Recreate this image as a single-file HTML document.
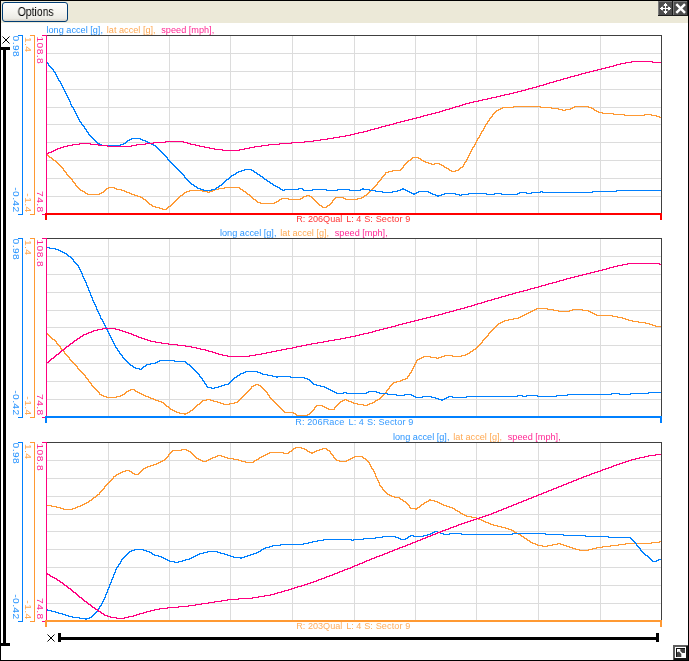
<!DOCTYPE html>
<html><head><meta charset="utf-8"><title>Chart</title>
<style>
html,body{margin:0;padding:0;background:#fff;}
body{width:689px;height:661px;position:relative;overflow:hidden;font-family:"Liberation Sans",sans-serif;}
#frame{position:absolute;left:0;top:0;width:687px;height:659px;border:1px solid #000;}
#hdr{position:absolute;left:1px;top:1px;width:687px;height:22px;background:#ece9d8;}
#btn{position:absolute;left:2px;top:2px;width:64px;height:18px;border:1px solid #003c74;border-radius:3px;
 background:linear-gradient(#ffffff 0%,#f6f5f0 50%,#ecebe5 85%,#d6d0c5 100%);font-size:12px;line-height:18px;text-align:center;color:#000;}
#btn span{display:inline-block;transform:scaleX(0.87);transform-origin:50% 50%;position:relative;left:0.2px;will-change:transform;}
svg{position:absolute;left:0;top:0;}
.cv{fill:none;stroke-width:1;shape-rendering:crispEdges;}
.ax{fill-opacity:.85;font-size:9.3px;letter-spacing:0.35px;font-family:"Liberation Sans",sans-serif;}
.lg{fill-opacity:.85;font-size:8.5px;font-family:"Liberation Sans",sans-serif;}
.bl{fill-opacity:.8;font-size:9.1px;font-family:"Liberation Sans",sans-serif;}
</style></head><body>
<div id="hdr"></div>
<div id="btn"><span>Options</span></div>
<svg width="689" height="661" viewBox="0 0 689 661">
<rect x="47" y="53" width="614" height="1" fill="#dcdcdc"/>
<rect x="47" y="71" width="614" height="1" fill="#dcdcdc"/>
<rect x="47" y="89" width="614" height="1" fill="#dcdcdc"/>
<rect x="47" y="107" width="614" height="1" fill="#dcdcdc"/>
<rect x="47" y="124" width="614" height="1" fill="#dcdcdc"/>
<rect x="47" y="142" width="614" height="1" fill="#dcdcdc"/>
<rect x="47" y="160" width="614" height="1" fill="#dcdcdc"/>
<rect x="47" y="178" width="614" height="1" fill="#dcdcdc"/>
<rect x="47" y="196" width="614" height="1" fill="#dcdcdc"/>
<rect x="108" y="36" width="1" height="177" fill="#dcdcdc"/>
<rect x="169" y="36" width="1" height="177" fill="#dcdcdc"/>
<rect x="230" y="36" width="1" height="177" fill="#dcdcdc"/>
<rect x="292" y="36" width="1" height="177" fill="#dcdcdc"/>
<rect x="354" y="36" width="1" height="177" fill="#dcdcdc"/>
<rect x="415" y="36" width="1" height="177" fill="#dcdcdc"/>
<rect x="476" y="36" width="1" height="177" fill="#dcdcdc"/>
<rect x="538" y="36" width="1" height="177" fill="#dcdcdc"/>
<rect x="600" y="36" width="1" height="177" fill="#dcdcdc"/>
<rect x="47" y="35" width="615" height="1" fill="#404040"/>
<rect x="661" y="35" width="1" height="178" fill="#404040"/>
<rect x="22" y="35" width="1" height="180" fill="#0080ff"/>
<rect x="18" y="35" width="4" height="1" fill="#0080ff"/>
<rect x="18" y="214" width="4" height="1" fill="#0080ff"/>
<rect x="34" y="35" width="1" height="180" fill="#ff9933"/>
<rect x="30" y="35" width="4" height="1" fill="#ff9933"/>
<rect x="30" y="214" width="4" height="1" fill="#ff9933"/>
<rect x="46" y="35" width="1" height="180" fill="#ff0080"/>
<rect x="42" y="35" width="4" height="1" fill="#ff0080"/>
<rect x="42" y="214" width="4" height="1" fill="#ff0080"/>
<path class="cv" d="M47.5 154v2M48.5 155v2M49.5 156v2M50 157.5h1M51.5 157v2M52.5 158v2M53.5 159v2M54 160.5h1M55.5 160v2M56.5 161v2M57.5 162v2M58.5 163v2M59.5 164v2M60.5 165v2M61.5 166v2M62.5 167v2M63.5 168v3M64.5 170v2M65.5 171v2M66.5 172v3M67.5 174v2M68.5 175v2M69.5 176v2M70.5 177v2M71.5 178v2M72.5 179v3M73.5 181v2M74.5 182v2M75.5 183v3M76.5 185v2M77.5 186v2M78.5 187v2M79.5 188v2M80.5 189v2M81 190.5h1M82.5 190v2M83 191.5h1M84.5 191v2M85.5 192v2M86 193.5h1M87.5 193v2M88 194.5h11M99.5 193v2M100 193.5h1M101.5 192v2M102 192.5h1M103.5 191v2M104.5 190v2M105.5 189v2M106.5 188v2M107 188.5h1M108.5 187v2M109 187.5h5M114.5 187v2M115 188.5h1M116.5 188v2M117 189.5h4M121.5 189v2M122 190.5h2M124.5 190v2M125 191.5h1M126.5 191v2M127 192.5h2M129.5 192v2M130 193.5h1M131.5 193v2M132 194.5h2M134.5 194v2M135 195.5h2M137.5 195v2M138 196.5h2M140.5 196v2M141 197.5h1M142.5 197v2M143.5 198v2M144 199.5h1M145.5 199v2M146.5 200v2M147.5 201v2M148.5 202v2M149.5 203v2M150 204.5h1M151.5 204v2M152.5 205v2M153 206.5h2M155.5 206v2M156 207.5h3M159.5 207v2M160 208.5h2M162.5 208v2M163 209.5h3M166.5 208v2M167.5 207v2M168.5 206v2M169 206.5h1M170.5 205v2M171.5 204v2M172.5 203v2M173.5 202v2M174.5 201v2M175.5 200v2M176.5 199v2M177.5 198v2M178.5 197v2M179.5 196v2M180.5 195v2M181 195.5h1M182.5 194v2M183.5 193v2M184.5 192v2M185 192.5h1M186.5 191v2M187 191.5h2M189.5 190v2M190 190.5h12M202.5 190v2M203 191.5h4M207.5 191v2M208 192.5h1M209.5 191v2M210 191.5h2M212.5 190v2M213 190.5h1M214.5 189v2M215 189.5h3M218.5 188v2M219 188.5h5M224.5 187v2M225 187.5h14M239.5 187v2M240.5 188v2M241 189.5h1M242.5 189v2M243.5 190v2M244 191.5h1M245.5 191v2M246.5 192v2M247.5 193v2M248 194.5h1M249.5 194v2M250.5 195v2M251.5 196v2M252.5 197v2M253.5 198v2M254 199.5h1M255.5 199v2M256.5 200v2M257.5 201v2M258 202.5h2M260.5 202v2M261 203.5h13M274.5 202v2M275 202.5h1M276.5 201v2M277 201.5h1M278.5 200v2M279.5 199v2M280 199.5h1M281.5 198v2M282 198.5h6M288.5 198v2M289 199.5h11M300.5 198v2M301 198.5h1M302.5 197v2M303.5 196v2M304 196.5h2M306.5 195v2M307 195.5h2M309.5 195v2M310 196.5h1M311.5 196v2M312.5 197v2M313.5 198v2M314.5 199v2M315.5 200v2M316.5 201v2M317.5 202v2M318.5 203v2M319.5 204v2M320 205.5h1M321.5 205v2M322.5 206v2M323 207.5h3M326.5 206v2M327.5 205v2M328 205.5h1M329.5 204v2M330.5 203v2M331.5 202v2M332.5 200v3M333.5 199v2M334.5 198v2M335.5 197v2M336 197.5h7M343.5 197v2M344 198.5h1M345.5 198v2M346 199.5h11M357.5 198v2M358 198.5h3M361.5 197v2M362 197.5h1M363.5 196v2M364.5 195v2M365 195.5h1M366.5 194v2M367.5 193v2M368.5 192v2M369.5 191v2M370.5 190v2M371.5 189v2M372.5 188v2M373.5 187v2M374.5 186v2M375.5 185v2M376.5 184v2M377.5 182v3M378.5 181v2M379.5 180v2M380.5 179v2M381.5 177v3M382.5 176v2M383.5 175v2M384.5 174v2M385.5 172v3M386 172.5h2M388.5 171v2M389 171.5h3M392.5 170v2M393 170.5h7M400.5 169v2M401.5 168v2M402.5 167v2M403.5 165v3M404.5 164v2M405.5 163v2M406.5 162v2M407.5 161v2M408.5 160v2M409 160.5h1M410.5 159v2M411.5 158v2M412.5 157v2M413 157.5h5M418.5 157v2M419 158.5h1M420.5 158v2M421.5 159v2M422 160.5h1M423.5 160v2M424 161.5h1M425.5 161v2M426 162.5h2M428.5 162v2M429 163.5h2M431.5 163v2M432 164.5h2M434.5 163v2M435 163.5h4M439.5 163v2M440 164.5h1M441.5 164v2M442 165.5h1M443.5 165v2M444.5 166v2M445 167.5h1M446.5 167v2M447 168.5h1M448.5 168v2M449.5 169v2M450 170.5h1M451.5 170v2M452 171.5h3M455.5 170v2M456 170.5h2M458.5 169v2M459.5 168v2M460.5 167v2M461 167.5h1M462.5 166v2M463.5 164v3M464.5 162v3M465.5 161v2M466.5 159v3M467.5 157v3M468.5 155v3M469.5 153v3M470.5 151v3M471.5 149v3M472.5 147v3M473.5 146v2M474.5 144v3M475.5 142v3M476.5 140v3M477.5 138v3M478.5 137v2M479.5 135v3M480.5 133v3M481.5 131v3M482.5 130v2M483.5 128v3M484.5 126v3M485.5 124v3M486.5 123v2M487.5 121v3M488.5 120v2M489.5 118v3M490.5 117v2M491.5 116v2M492.5 114v3M493.5 113v2M494.5 112v2M495.5 111v2M496.5 110v2M497 110.5h1M498.5 109v2M499 109.5h1M500.5 108v2M501 108.5h1M502.5 107v2M503 107.5h10M513.5 106v2M514 106.5h26M540.5 106v2M541 107.5h10M551.5 107v2M552 108.5h6M558.5 108v2M559 109.5h3M562.5 109v2M563 110.5h2M565.5 109v2M566 109.5h4M570.5 108v2M571 108.5h1M572.5 107v2M573 107.5h1M574.5 106v2M575 106.5h13M588.5 106v2M589 107.5h2M591.5 107v2M592 108.5h1M593.5 108v2M594.5 109v2M595 110.5h1M596.5 110v2M597 111.5h1M598.5 111v2M599 112.5h3M602.5 112v2M603 113.5h10M613.5 113v2M614 114.5h10M624.5 114v2M625 115.5h19M644.5 114v2M645 114.5h6M651.5 114v2M652 115.5h4M656.5 115v2M657 116.5h2M659.5 116v2M660 117.5h1" stroke="#ff9933"/>
<path class="cv" d="M47.5 62v2M48.5 63v3M49.5 65v2M50.5 66v2M51.5 67v2M52.5 68v2M53.5 69v3M54.5 71v2M55.5 72v3M56.5 74v3M57.5 76v3M58.5 78v3M59.5 80v2M60.5 81v3M61.5 83v3M62.5 85v3M63.5 87v3M64.5 89v3M65.5 91v3M66.5 93v3M67.5 95v3M68.5 97v3M69.5 99v3M70.5 101v4M71.5 104v3M72.5 106v2M73.5 107v3M74.5 109v3M75.5 111v3M76.5 113v3M77.5 115v3M78.5 117v3M79.5 119v3M80.5 121v2M81.5 122v3M82.5 124v2M83.5 125v2M84.5 126v3M85.5 128v2M86.5 129v3M87.5 131v2M88.5 132v3M89.5 134v2M90.5 135v2M91.5 136v2M92.5 137v2M93.5 138v2M94.5 139v2M95.5 140v2M96.5 141v2M97.5 142v2M98 143.5h1M99.5 143v2M100 144.5h1M101.5 144v2M102 145.5h18M120.5 144v2M121 144.5h2M123.5 143v2M124 143.5h1M125.5 142v2M126.5 141v2M127.5 140v2M128 140.5h1M129.5 139v2M130 139.5h1M131.5 138v2M132 138.5h8M140.5 138v2M141 139.5h1M142.5 139v2M143 140.5h2M145.5 140v2M146 141.5h1M147.5 141v2M148 142.5h1M149.5 142v2M150 143.5h1M151.5 143v2M152 144.5h1M153.5 144v2M154 145.5h1M155.5 145v2M156.5 146v2M157.5 147v2M158.5 148v2M159.5 149v2M160.5 150v2M161.5 151v2M162.5 152v2M163.5 153v2M164.5 154v2M165.5 155v2M166.5 156v2M167.5 157v3M168.5 159v2M169.5 160v2M170.5 161v2M171.5 162v2M172.5 163v2M173.5 164v2M174.5 165v2M175.5 166v2M176.5 167v2M177.5 168v2M178.5 169v2M179.5 170v2M180.5 171v2M181.5 172v2M182.5 173v2M183.5 174v2M184.5 175v3M185.5 177v2M186.5 178v2M187.5 179v2M188.5 180v2M189.5 181v2M190.5 182v2M191.5 183v2M192 184.5h1M193.5 184v2M194.5 185v2M195 186.5h1M196.5 186v2M197.5 187v2M198 188.5h2M200.5 188v2M201 189.5h2M203.5 189v2M204 190.5h7M211.5 189v2M212 189.5h3M215.5 188v2M216.5 187v2M217 187.5h1M218.5 186v2M219.5 185v2M220 185.5h1M221.5 184v2M222.5 183v2M223.5 182v2M224.5 181v2M225.5 180v2M226.5 179v2M227 179.5h1M228.5 178v2M229.5 177v2M230.5 176v2M231.5 175v2M232 175.5h1M233.5 174v2M234 174.5h1M235.5 173v2M236.5 172v2M237 172.5h1M238.5 171v2M239 171.5h2M241.5 170v2M242 170.5h2M244.5 169v2M245 169.5h6M251.5 169v2M252 170.5h1M253.5 170v2M254.5 171v2M255 172.5h1M256.5 172v2M257.5 173v2M258 174.5h1M259.5 174v2M260.5 175v2M261 176.5h1M262.5 176v2M263.5 177v2M264.5 178v2M265 179.5h1M266.5 179v2M267.5 180v2M268 181.5h1M269.5 181v2M270.5 182v2M271 183.5h1M272.5 183v2M273.5 184v2M274 185.5h1M275.5 185v2M276 186.5h1M277.5 186v2M278 187.5h1M279.5 187v2M280.5 188v2M281 189.5h1M282.5 189v2M283 190.5h1M284.5 189v2M285 189.5h13M298.5 188v2M299 188.5h3M302.5 188v2M303.5 189v2M304 190.5h8M312.5 189v2M313 189.5h13M326.5 189v2M327 190.5h10M337.5 189v2M338 189.5h11M349.5 189v2M350 190.5h10M360.5 189v2M361 189.5h1M362.5 188v2M363.5 188v2M364 189.5h5M369.5 189v2M370 190.5h5M375.5 190v2M376 191.5h6M382.5 191v2M383 192.5h9M392.5 191v2M393 191.5h4M397.5 190v2M398 190.5h2M400.5 189v2M401 189.5h1M402.5 188v2M403.5 188v2M404 189.5h1M405.5 189v2M406 190.5h1M407.5 190v2M408 191.5h1M409.5 191v2M410 192.5h1M411.5 192v2M412 193.5h1M413.5 193v2M414.5 193v2M415 193.5h1M416.5 192v2M417 192.5h1M418.5 191v2M419 191.5h9M428.5 191v2M429 192.5h1M430.5 192v2M431 193.5h1M432.5 193v2M433 194.5h2M435.5 194v2M436 195.5h1M437.5 195v2M438.5 195v2M439 195.5h2M441.5 194v2M442 194.5h2M444.5 193v2M445 193.5h10M455.5 193v2M456 194.5h3M459.5 194v2M460 195.5h1M461.5 194v2M462 194.5h6M468.5 193v2M469 193.5h17M486.5 193v2M487 194.5h7M494.5 193v2M495 193.5h6M501.5 193v2M502 194.5h15M517.5 193v2M518 193.5h1M519.5 192v2M520 192.5h6M526.5 192v2M527 193.5h4M531.5 192v2M532 192.5h8M540.5 191v2M541 191.5h1M542.5 191v2M543 192.5h49M592.5 191v2M593 191.5h23M616.5 190v2M617 190.5h44" stroke="#0080ff"/>
<path class="cv" d="M47 153.5h1M48.5 152v2M49 152.5h2M51.5 151v2M52 151.5h1M53.5 150v2M54 150.5h1M55.5 149v2M56 149.5h1M57.5 148v2M58 148.5h2M60.5 147v2M61 147.5h2M63.5 146v2M64 146.5h3M67.5 145v2M68 145.5h4M72.5 144v2M73 144.5h6M79.5 143v2M80 143.5h10M90.5 143v2M91 144.5h7M98.5 144v2M99 145.5h8M107.5 145v2M108 146.5h23M131.5 145v2M132 145.5h4M136.5 144v2M137 144.5h8M145.5 143v2M146 143.5h7M153.5 142v2M154 142.5h11M165.5 141v2M166 141.5h17M183.5 141v2M184 142.5h3M187.5 142v2M188 143.5h2M190.5 143v2M191 144.5h4M195.5 144v2M196 145.5h3M199.5 145v2M200 146.5h4M204.5 146v2M205 147.5h4M209.5 147v2M210 148.5h4M214.5 148v2M215 149.5h7M222.5 149v2M223 150.5h16M239.5 149v2M240 149.5h4M244.5 148v2M245 148.5h4M249.5 147v2M250 147.5h4M254.5 146v2M255 146.5h6M261.5 145v2M262 145.5h6M268.5 144v2M269 144.5h10M279.5 143v2M280 143.5h11M291.5 142v2M292 142.5h12M304.5 141v2M305 141.5h8M313.5 140v2M314 140.5h6M320.5 139v2M321 139.5h6M327.5 138v2M328 138.5h5M333.5 137v2M334 137.5h5M339.5 136v2M340 136.5h5M345.5 135v2M346 135.5h4M350.5 134v2M351 134.5h3M354.5 133v2M355 133.5h3M358.5 132v2M359 132.5h4M363.5 131v2M364 131.5h3M367.5 130v2M368 130.5h2M370.5 129v2M371 129.5h3M374.5 128v2M375 128.5h3M378.5 127v2M379 127.5h2M381.5 126v2M382 126.5h3M385.5 125v2M386 125.5h3M389.5 124v2M390 124.5h3M393.5 123v2M394 123.5h2M396.5 122v2M397 122.5h3M400.5 121v2M401 121.5h3M404.5 120v2M405 120.5h3M408.5 119v2M409 119.5h3M412.5 118v2M413 118.5h3M416.5 117v2M417 117.5h3M420.5 116v2M421 116.5h2M423.5 115v2M424 115.5h3M427.5 114v2M428 114.5h3M431.5 113v2M432 113.5h3M435.5 112v2M436 112.5h3M439.5 111v2M440 111.5h2M442.5 110v2M443 110.5h2M445.5 109v2M446 109.5h3M449.5 108v2M450 108.5h2M452.5 107v2M453 107.5h2M455.5 106v2M456 106.5h3M459.5 105v2M460 105.5h2M462.5 104v2M463 104.5h2M465.5 103v2M466 103.5h3M469.5 102v2M470 102.5h3M473.5 101v2M474 101.5h4M478.5 100v2M479 100.5h3M482.5 99v2M483 99.5h4M487.5 98v2M488 98.5h3M491.5 97v2M492 97.5h4M496.5 96v2M497 96.5h3M500.5 95v2M501 95.5h3M504.5 94v2M505 94.5h4M509.5 93v2M510 93.5h3M513.5 92v2M514 92.5h3M517.5 91v2M518 91.5h3M521.5 90v2M522 90.5h3M525.5 89v2M526 89.5h2M528.5 88v2M529 88.5h3M532.5 87v2M533 87.5h3M536.5 86v2M537 86.5h2M539.5 85v2M540 85.5h3M543.5 84v2M544 84.5h2M546.5 83v2M547 83.5h2M549.5 82v2M550 82.5h3M553.5 81v2M554 81.5h2M556.5 80v2M557 80.5h3M560.5 79v2M561 79.5h2M563.5 78v2M564 78.5h3M567.5 77v2M568 77.5h2M570.5 76v2M571 76.5h3M574.5 75v2M575 75.5h3M578.5 74v2M579 74.5h2M581.5 73v2M582 73.5h3M585.5 72v2M586 72.5h3M589.5 71v2M590 71.5h3M593.5 70v2M594 70.5h3M597.5 69v2M598 69.5h3M601.5 68v2M602 68.5h3M605.5 67v2M606 67.5h3M609.5 66v2M610 66.5h3M613.5 65v2M614 65.5h2M616.5 64v2M617 64.5h3M620.5 63v2M621 63.5h4M625.5 62v2M626 62.5h5M631.5 61v2M632 61.5h20M652.5 61v2M653 62.5h8" stroke="#ff0080"/>
<rect x="45" y="213" width="617" height="2" fill="#ff0000"/>
<rect x="45" y="213" width="2" height="7" fill="#ff0000"/>
<rect x="660" y="213" width="2" height="7" fill="#ff0000"/>
<text class="ax" fill="#0080ff" transform="translate(13,35.6) rotate(90) scale(1.1,1)">0.98</text>
<text class="ax" fill="#0080ff" text-anchor="end" transform="translate(13,212.5) rotate(90) scale(1.1,1)">-0.42</text>
<text class="ax" fill="#ff9933" transform="translate(25,36.9) rotate(90) scale(1.1,1)">1.4</text>
<text class="ax" fill="#ff9933" text-anchor="end" transform="translate(25,212.5) rotate(90) scale(1.1,1)">-1.4</text>
<text class="ax" fill="#ff0080" transform="translate(37,36.5) rotate(90) scale(1.1,1)">108.8</text>
<text class="ax" fill="#ff0080" text-anchor="end" transform="translate(37,212.5) rotate(90) scale(1.1,1)">74.8</text>
<text class="lg" transform="translate(46.5,32.8) scale(1.077,1)"><tspan x="0" fill="#0080ff">long accel [g],</tspan><tspan x="55.99" fill="#ff9933">lat accel [g],</tspan><tspan x="106.59" fill="#ff0080">speed [mph],</tspan></text>
<text class="bl" y="222" fill="#ff0000"><tspan x="296.3" style="letter-spacing:0.0px">R: 206Qual</tspan><tspan x="346.2">L: 4</tspan><tspan x="364.2" style="letter-spacing:0.12px">S: Sector 9</tspan></text>
<rect x="47" y="256" width="614" height="1" fill="#dcdcdc"/>
<rect x="47" y="274" width="614" height="1" fill="#dcdcdc"/>
<rect x="47" y="292" width="614" height="1" fill="#dcdcdc"/>
<rect x="47" y="310" width="614" height="1" fill="#dcdcdc"/>
<rect x="47" y="327" width="614" height="1" fill="#dcdcdc"/>
<rect x="47" y="345" width="614" height="1" fill="#dcdcdc"/>
<rect x="47" y="363" width="614" height="1" fill="#dcdcdc"/>
<rect x="47" y="381" width="614" height="1" fill="#dcdcdc"/>
<rect x="47" y="399" width="614" height="1" fill="#dcdcdc"/>
<rect x="108" y="239" width="1" height="177" fill="#dcdcdc"/>
<rect x="169" y="239" width="1" height="177" fill="#dcdcdc"/>
<rect x="230" y="239" width="1" height="177" fill="#dcdcdc"/>
<rect x="292" y="239" width="1" height="177" fill="#dcdcdc"/>
<rect x="354" y="239" width="1" height="177" fill="#dcdcdc"/>
<rect x="415" y="239" width="1" height="177" fill="#dcdcdc"/>
<rect x="476" y="239" width="1" height="177" fill="#dcdcdc"/>
<rect x="538" y="239" width="1" height="177" fill="#dcdcdc"/>
<rect x="600" y="239" width="1" height="177" fill="#dcdcdc"/>
<rect x="47" y="238" width="615" height="1" fill="#404040"/>
<rect x="661" y="238" width="1" height="178" fill="#404040"/>
<rect x="22" y="238" width="1" height="180" fill="#0080ff"/>
<rect x="18" y="238" width="4" height="1" fill="#0080ff"/>
<rect x="18" y="417" width="4" height="1" fill="#0080ff"/>
<rect x="34" y="238" width="1" height="180" fill="#ff9933"/>
<rect x="30" y="238" width="4" height="1" fill="#ff9933"/>
<rect x="30" y="417" width="4" height="1" fill="#ff9933"/>
<rect x="46" y="238" width="1" height="180" fill="#ff0080"/>
<rect x="42" y="238" width="4" height="1" fill="#ff0080"/>
<rect x="42" y="417" width="4" height="1" fill="#ff0080"/>
<path class="cv" d="M47.5 333v2M48.5 334v2M49.5 335v2M50.5 336v2M51.5 337v2M52.5 338v2M53 339.5h1M54.5 339v2M55.5 340v2M56.5 341v3M57.5 343v2M58.5 344v2M59.5 345v2M60.5 346v3M61.5 348v2M62.5 349v2M63.5 350v2M64.5 351v3M65.5 353v2M66.5 354v2M67.5 355v2M68.5 356v2M69.5 357v3M70.5 359v2M71.5 360v2M72.5 361v2M73.5 362v2M74.5 363v2M75.5 364v2M76.5 365v2M77.5 366v3M78.5 368v2M79.5 369v2M80.5 370v2M81.5 371v2M82.5 372v2M83.5 373v2M84.5 374v2M85.5 375v3M86.5 377v2M87.5 378v2M88.5 379v3M89.5 381v2M90.5 382v2M91.5 383v3M92.5 385v2M93.5 386v2M94.5 387v2M95.5 388v2M96.5 389v2M97.5 390v2M98.5 391v2M99.5 392v3M100 394.5h1M101.5 394v2M102 395.5h1M103.5 395v2M104 396.5h2M106.5 396v2M107 397.5h9M116.5 396v2M117 396.5h3M120.5 395v2M121 395.5h1M122.5 394v2M123 394.5h1M124.5 393v2M125.5 392v2M126.5 391v2M127 391.5h1M128.5 390v2M129 390.5h1M130.5 389v2M131 389.5h3M134.5 389v2M135.5 390v2M136 391.5h1M137.5 391v2M138 392.5h1M139.5 392v2M140 393.5h1M141.5 393v2M142 394.5h1M143.5 394v2M144 395.5h1M145.5 395v2M146 396.5h2M148.5 396v2M149 397.5h1M150.5 397v2M151 398.5h2M153.5 398v2M154 399.5h1M155.5 399v2M156 400.5h2M158.5 400v2M159 401.5h2M161.5 401v2M162 402.5h1M163.5 402v2M164.5 403v2M165.5 404v2M166.5 405v2M167 406.5h1M168.5 406v2M169.5 407v2M170.5 408v2M171 409.5h1M172.5 409v2M173 410.5h1M174.5 410v2M175 411.5h1M176.5 411v2M177 412.5h2M179.5 412v2M180 413.5h4M184.5 413v2M185.5 413v2M186 413.5h1M187.5 412v2M188 412.5h1M189.5 411v2M190.5 410v2M191 410.5h1M192.5 409v2M193.5 408v2M194.5 407v2M195.5 406v2M196.5 405v2M197.5 404v2M198 404.5h1M199.5 403v2M200.5 402v2M201.5 401v2M202.5 400v2M203 400.5h3M206.5 399v2M207 399.5h3M210.5 399v2M211 400.5h2M213.5 400v2M214 401.5h3M217.5 401v2M218 402.5h2M220.5 402v2M221 403.5h2M223.5 403v2M224 404.5h5M229.5 403v2M230 403.5h4M234.5 402v2M235 402.5h2M237.5 401v2M238.5 400v2M239.5 399v2M240.5 398v2M241.5 397v2M242.5 396v2M243.5 395v2M244.5 394v2M245.5 393v2M246.5 392v2M247.5 391v2M248.5 390v2M249.5 389v2M250.5 388v2M251.5 386v3M252 386.5h1M253.5 385v2M254 385.5h1M255.5 384v2M256 384.5h2M258.5 384v2M259 385.5h1M260.5 385v2M261.5 386v2M262.5 387v2M263.5 388v2M264.5 389v2M265.5 390v2M266.5 391v2M267.5 392v3M268.5 394v2M269.5 395v3M270.5 397v2M271.5 398v2M272.5 399v2M273.5 400v2M274.5 401v2M275.5 402v2M276.5 403v2M277.5 404v2M278.5 405v2M279.5 406v2M280.5 407v2M281.5 408v2M282.5 409v2M283.5 410v2M284.5 411v2M285 412.5h8M293.5 412v2M294 413.5h1M295.5 413v2M296.5 414v2M297 415.5h10M307.5 414v2M308 414.5h1M309.5 413v2M310.5 412v2M311.5 411v2M312.5 410v2M313.5 409v2M314.5 407v3M315.5 406v2M316.5 405v2M317 405.5h5M322.5 405v2M323 406.5h1M324.5 406v2M325 407.5h1M326.5 407v2M327 408.5h1M328.5 408v2M329 409.5h5M334.5 407v3M335.5 406v2M336.5 405v2M337.5 404v2M338.5 403v2M339.5 402v2M340.5 401v2M341 401.5h1M342.5 400v2M343 400.5h1M344.5 399v2M345 399.5h1M346.5 399v2M347 400.5h1M348.5 400v2M349 401.5h2M351.5 401v2M352 402.5h1M353.5 402v2M354 403.5h3M357.5 403v2M358 404.5h5M363.5 404v2M364 405.5h3M367.5 404v2M368 404.5h1M369.5 403v2M370 403.5h2M372.5 402v2M373 402.5h1M374.5 401v2M375.5 400v2M376 400.5h1M377.5 399v2M378 399.5h1M379.5 398v2M380.5 397v2M381.5 396v2M382.5 395v2M383.5 394v2M384.5 393v2M385.5 392v2M386.5 390v3M387.5 389v2M388.5 388v2M389.5 386v3M390.5 385v2M391.5 384v2M392.5 383v2M393.5 382v2M394 382.5h2M396.5 381v2M397 381.5h3M400.5 380v2M401 380.5h1M402.5 379v2M403 379.5h2M405.5 378v2M406 378.5h1M407.5 376v3M408.5 375v2M409.5 373v3M410.5 372v2M411.5 370v3M412.5 368v3M413.5 366v3M414.5 364v3M415.5 362v3M416.5 360v3M417.5 359v2M418 359.5h1M419.5 358v2M420 358.5h1M421.5 357v2M422 357.5h1M423.5 356v2M424 356.5h6M430.5 356v2M431 357.5h5M436.5 357v2M437 358.5h1M438.5 357v2M439 357.5h2M441.5 356v2M442 356.5h2M444.5 355v2M445 355.5h7M452.5 355v2M453 356.5h8M461.5 355v2M462 355.5h3M465.5 354v2M466 354.5h1M467.5 353v2M468 353.5h1M469.5 352v2M470.5 351v2M471 351.5h1M472.5 350v2M473.5 349v2M474 349.5h1M475.5 348v2M476.5 347v2M477.5 346v2M478.5 345v2M479.5 344v2M480.5 343v2M481.5 342v2M482.5 340v3M483.5 339v2M484.5 338v2M485.5 337v2M486.5 336v2M487.5 335v2M488.5 333v3M489.5 332v2M490.5 331v2M491.5 330v2M492.5 329v2M493.5 328v2M494.5 327v2M495.5 326v2M496.5 325v2M497.5 324v2M498.5 323v2M499 323.5h1M500.5 322v2M501 322.5h1M502.5 321v2M503 321.5h1M504.5 320v2M505 320.5h3M508.5 319v2M509 319.5h4M513.5 318v2M514 318.5h4M518.5 317v2M519 317.5h1M520.5 316v2M521 316.5h1M522.5 315v2M523 315.5h1M524.5 314v2M525 314.5h1M526.5 313v2M527 313.5h1M528.5 312v2M529 312.5h1M530.5 311v2M531 311.5h1M532.5 310v2M533 310.5h1M534.5 309v2M535 309.5h1M536.5 308v2M537 308.5h10M547.5 308v2M548 309.5h5M553.5 309v2M554 310.5h4M558.5 310v2M559 311.5h10M569.5 310v2M570 310.5h2M572.5 309v2M573 309.5h9M582.5 309v2M583 310.5h5M588.5 310v2M589 311.5h1M590.5 311v2M591 312.5h1M592.5 312v2M593 313.5h1M594.5 313v2M595 314.5h1M596.5 314v2M597 315.5h15M612.5 315v2M613 316.5h4M617.5 316v2M618 317.5h4M622.5 317v2M623 318.5h2M625.5 318v2M626 319.5h2M628.5 319v2M629 320.5h3M632.5 320v2M633 321.5h5M638.5 321v2M639 322.5h6M645.5 322v2M646 323.5h3M649.5 323v2M650 324.5h2M652.5 324v2M653 325.5h2M655.5 325v2M656 326.5h5" stroke="#ff9933"/>
<path class="cv" d="M47 247.5h2M49.5 247v2M50 248.5h5M55.5 248v2M56 249.5h2M58.5 249v2M59 250.5h1M60.5 250v2M61 251.5h1M62.5 251v2M63 252.5h1M64.5 252v2M65 253.5h1M66.5 253v2M67.5 254v2M68.5 255v2M69 256.5h1M70.5 256v2M71.5 257v2M72.5 258v2M73.5 259v3M74.5 261v2M75.5 262v2M76.5 263v2M77.5 264v2M78.5 265v3M79.5 267v3M80.5 269v3M81.5 271v3M82.5 273v4M83.5 276v3M84.5 278v3M85.5 280v3M86.5 282v4M87.5 285v3M88.5 287v4M89.5 290v3M90.5 292v4M91.5 295v3M92.5 297v4M93.5 300v3M94.5 302v3M95.5 304v3M96.5 306v4M97.5 309v3M98.5 311v3M99.5 313v3M100.5 315v4M101.5 318v2M102.5 319v3M103.5 321v3M104.5 323v3M105.5 325v3M106.5 327v3M107.5 329v3M108.5 331v3M109.5 333v3M110.5 335v3M111.5 337v3M112.5 339v3M113.5 341v3M114.5 343v3M115.5 345v3M116.5 347v2M117.5 348v3M118.5 350v2M119.5 351v3M120.5 353v2M121.5 354v2M122.5 355v3M123.5 357v2M124.5 358v2M125.5 359v2M126.5 360v2M127.5 361v2M128.5 362v2M129.5 363v2M130.5 364v2M131 365.5h1M132.5 365v2M133.5 366v2M134 367.5h1M135.5 367v2M136 368.5h3M139.5 368v2M140 369.5h1M141.5 368v2M142.5 367v2M143.5 366v2M144 366.5h1M145.5 365v2M146.5 364v2M147 364.5h3M150.5 363v2M151 363.5h4M155.5 362v2M156 362.5h1M157.5 361v2M158 361.5h1M159.5 360v2M160 360.5h14M174.5 360v2M175 361.5h10M185.5 361v2M186.5 362v2M187.5 363v2M188 364.5h1M189.5 364v2M190.5 365v2M191.5 366v2M192.5 367v2M193.5 368v2M194.5 369v2M195.5 370v2M196.5 371v2M197.5 372v2M198.5 373v2M199.5 374v3M200.5 376v2M201.5 377v2M202.5 378v3M203.5 380v2M204.5 381v3M205.5 383v2M206.5 384v3M207.5 386v2M208 387.5h3M211.5 387v2M212 388.5h2M214.5 387v2M215 387.5h3M218.5 386v2M219 386.5h2M221.5 385v2M222 385.5h2M224.5 384v2M225 384.5h3M228.5 383v2M229.5 382v2M230.5 381v2M231.5 380v2M232.5 379v2M233.5 378v2M234.5 377v2M235 377.5h1M236.5 376v2M237.5 375v2M238 375.5h1M239.5 374v2M240.5 373v2M241 373.5h2M243.5 372v2M244 372.5h1M245.5 371v2M246 371.5h11M257.5 371v2M258 372.5h2M260.5 372v2M261 373.5h1M262.5 373v2M263 374.5h4M267.5 374v2M268 375.5h4M272.5 375v2M273 376.5h3M276.5 376v2M277.5 376v2M278 376.5h12M290.5 376v2M291 377.5h13M304.5 377v2M305 378.5h2M307.5 378v2M308 379.5h1M309.5 379v2M310.5 380v2M311.5 381v2M312.5 382v2M313.5 383v2M314 384.5h2M316.5 384v2M317 385.5h3M320.5 385v2M321 386.5h3M324.5 386v2M325 387.5h1M326.5 387v2M327 388.5h1M328.5 388v2M329 389.5h1M330.5 389v2M331 390.5h1M332.5 390v2M333 391.5h1M334.5 391v2M335 392.5h1M336.5 392v2M337 393.5h6M343.5 392v2M344 392.5h2M346.5 392v2M347 393.5h19M366.5 392v2M367 392.5h1M368.5 391v2M369 391.5h7M376.5 391v2M377 392.5h2M379.5 392v2M380 393.5h7M387.5 393v2M388 394.5h8M396.5 394v2M397 395.5h7M404.5 394v2M405 394.5h6M411.5 394v2M412 395.5h1M413.5 395v2M414 396.5h1M415.5 396v2M416 397.5h6M422.5 396v2M423 396.5h8M431.5 396v2M432 397.5h3M435.5 397v2M436 398.5h2M438.5 398v2M439 399.5h2M441.5 399v2M442.5 399v2M443 399.5h1M444.5 398v2M445 398.5h1M446.5 397v2M447 397.5h1M448.5 396v2M449 396.5h3M452.5 396v2M453 397.5h13M466.5 396v2M467 396.5h50M517.5 395v2M518 395.5h4M522.5 395v2M523 396.5h3M526.5 395v2M527 395.5h10M537.5 395v2M538 396.5h18M556.5 395v2M557 395.5h10M567.5 394v2M568 394.5h43M611.5 393v2M612 393.5h7M619.5 393v2M620 394.5h10M630.5 393v2M631 393.5h17M648.5 392v2M649 392.5h12" stroke="#0080ff"/>
<path class="cv" d="M47 362.5h1M48.5 361v2M49.5 360v2M50.5 359v2M51.5 358v2M52 358.5h1M53.5 357v2M54.5 356v2M55.5 355v2M56.5 354v2M57 354.5h1M58.5 353v2M59.5 352v2M60.5 351v2M61.5 350v2M62 350.5h1M63.5 349v2M64.5 348v2M65.5 347v2M66.5 346v2M67 346.5h1M68.5 345v2M69.5 344v2M70.5 343v2M71 343.5h1M72.5 342v2M73.5 341v2M74.5 340v2M75 340.5h1M76.5 339v2M77.5 338v2M78 338.5h1M79.5 337v2M80.5 336v2M81 336.5h1M82.5 335v2M83.5 334v2M84 334.5h2M86.5 333v2M87 333.5h1M88.5 332v2M89 332.5h2M91.5 331v2M92 331.5h1M93.5 330v2M94 330.5h3M97.5 329v2M98 329.5h4M102.5 328v2M103 328.5h12M115.5 328v2M116 329.5h3M119.5 329v2M120 330.5h2M122.5 330v2M123 331.5h2M125.5 331v2M126 332.5h2M128.5 332v2M129 333.5h2M131.5 333v2M132 334.5h1M133.5 334v2M134 335.5h2M136.5 335v2M137 336.5h1M138.5 336v2M139 337.5h2M141.5 337v2M142 338.5h2M144.5 338v2M145 339.5h2M147.5 339v2M148 340.5h2M150.5 340v2M151 341.5h4M155.5 341v2M156 342.5h5M161.5 342v2M162 343.5h6M168.5 343v2M169 344.5h8M177.5 344v2M178 345.5h7M185.5 345v2M186 346.5h5M191.5 346v2M192 347.5h4M196.5 347v2M197 348.5h3M200.5 348v2M201 349.5h4M205.5 349v2M206 350.5h2M208.5 350v2M209 351.5h3M212.5 351v2M213 352.5h2M215.5 352v2M216 353.5h2M218.5 353v2M219 354.5h3M222.5 354v2M223 355.5h4M227.5 355v2M228 356.5h21M249.5 355v2M250 355.5h5M255.5 354v2M256 354.5h5M261.5 353v2M262 353.5h4M266.5 352v2M267 352.5h4M271.5 351v2M272 351.5h4M276.5 350v2M277 350.5h4M281.5 349v2M282 349.5h4M286.5 348v2M287 348.5h5M292.5 347v2M293 347.5h3M296.5 346v2M297 346.5h4M301.5 345v2M302 345.5h4M306.5 344v2M307 344.5h4M311.5 343v2M312 343.5h5M317.5 342v2M318 342.5h5M323.5 341v2M324 341.5h4M328.5 340v2M329 340.5h5M334.5 339v2M335 339.5h5M340.5 338v2M341 338.5h4M345.5 337v2M346 337.5h4M350.5 336v2M351 336.5h4M355.5 335v2M356 335.5h3M359.5 334v2M360 334.5h3M363.5 333v2M364 333.5h4M368.5 332v2M369 332.5h3M372.5 331v2M373 331.5h2M375.5 330v2M376 330.5h3M379.5 329v2M380 329.5h3M383.5 328v2M384 328.5h3M387.5 327v2M388 327.5h3M391.5 326v2M392 326.5h3M395.5 325v2M396 325.5h2M398.5 324v2M399 324.5h3M402.5 323v2M403 323.5h3M406.5 322v2M407 322.5h3M410.5 321v2M411 321.5h3M414.5 320v2M415 320.5h3M418.5 319v2M419 319.5h3M422.5 318v2M423 318.5h3M426.5 317v2M427 317.5h3M430.5 316v2M431 316.5h3M434.5 315v2M435 315.5h3M438.5 314v2M439 314.5h3M442.5 313v2M443 313.5h2M445.5 312v2M446 312.5h3M449.5 311v2M450 311.5h3M453.5 310v2M454 310.5h2M456.5 309v2M457 309.5h3M460.5 308v2M461 308.5h3M464.5 307v2M465 307.5h2M467.5 306v2M468 306.5h3M471.5 305v2M472 305.5h2M474.5 304v2M475 304.5h2M477.5 303v2M478 303.5h3M481.5 302v2M482 302.5h2M484.5 301v2M485 301.5h2M487.5 300v2M488 300.5h3M491.5 299v2M492 299.5h2M494.5 298v2M495 298.5h3M498.5 297v2M499 297.5h2M501.5 296v2M502 296.5h3M505.5 295v2M506 295.5h2M508.5 294v2M509 294.5h3M512.5 293v2M513 293.5h2M515.5 292v2M516 292.5h3M519.5 291v2M520 291.5h3M523.5 290v2M524 290.5h3M527.5 289v2M528 289.5h2M530.5 288v2M531 288.5h3M534.5 287v2M535 287.5h3M538.5 286v2M539 286.5h2M541.5 285v2M542 285.5h3M545.5 284v2M546 284.5h2M548.5 283v2M549 283.5h3M552.5 282v2M553 282.5h3M556.5 281v2M557 281.5h2M559.5 280v2M560 280.5h3M563.5 279v2M564 279.5h2M566.5 278v2M567 278.5h3M570.5 277v2M571 277.5h3M574.5 276v2M575 276.5h3M578.5 275v2M579 275.5h3M582.5 274v2M583 274.5h3M586.5 273v2M587 273.5h3M590.5 272v2M591 272.5h3M594.5 271v2M595 271.5h3M598.5 270v2M599 270.5h3M602.5 269v2M603 269.5h3M606.5 268v2M607 268.5h2M609.5 267v2M610 267.5h3M613.5 266v2M614 266.5h3M617.5 265v2M618 265.5h4M622.5 264v2M623 264.5h4M627.5 263v2M628 263.5h31M659.5 263v2M660 264.5h1" stroke="#ff0080"/>
<rect x="45" y="416" width="617" height="2" fill="#0080ff"/>
<rect x="45" y="416" width="2" height="7" fill="#0080ff"/>
<rect x="660" y="416" width="2" height="7" fill="#0080ff"/>
<text class="ax" fill="#0080ff" transform="translate(13,238.6) rotate(90) scale(1.1,1)">0.98</text>
<text class="ax" fill="#0080ff" text-anchor="end" transform="translate(13,415.5) rotate(90) scale(1.1,1)">-0.42</text>
<text class="ax" fill="#ff9933" transform="translate(25,239.9) rotate(90) scale(1.1,1)">1.4</text>
<text class="ax" fill="#ff9933" text-anchor="end" transform="translate(25,415.5) rotate(90) scale(1.1,1)">-1.4</text>
<text class="ax" fill="#ff0080" transform="translate(37,239.5) rotate(90) scale(1.1,1)">108.8</text>
<text class="ax" fill="#ff0080" text-anchor="end" transform="translate(37,415.5) rotate(90) scale(1.1,1)">74.8</text>
<text class="lg" transform="translate(220,235.8) scale(1.077,1)"><tspan x="0" fill="#0080ff">long accel [g],</tspan><tspan x="55.99" fill="#ff9933">lat accel [g],</tspan><tspan x="106.59" fill="#ff0080">speed [mph],</tspan></text>
<text class="bl" y="425" fill="#0080ff"><tspan x="295.3" style="letter-spacing:0.1px">R: 206Race</tspan><tspan x="348.59999999999997">L: 4</tspan><tspan x="367.09999999999997" style="letter-spacing:0.12px">S: Sector 9</tspan></text>
<rect x="47" y="460" width="614" height="1" fill="#dcdcdc"/>
<rect x="47" y="478" width="614" height="1" fill="#dcdcdc"/>
<rect x="47" y="496" width="614" height="1" fill="#dcdcdc"/>
<rect x="47" y="514" width="614" height="1" fill="#dcdcdc"/>
<rect x="47" y="531" width="614" height="1" fill="#dcdcdc"/>
<rect x="47" y="549" width="614" height="1" fill="#dcdcdc"/>
<rect x="47" y="567" width="614" height="1" fill="#dcdcdc"/>
<rect x="47" y="585" width="614" height="1" fill="#dcdcdc"/>
<rect x="47" y="603" width="614" height="1" fill="#dcdcdc"/>
<rect x="108" y="443" width="1" height="177" fill="#dcdcdc"/>
<rect x="169" y="443" width="1" height="177" fill="#dcdcdc"/>
<rect x="230" y="443" width="1" height="177" fill="#dcdcdc"/>
<rect x="292" y="443" width="1" height="177" fill="#dcdcdc"/>
<rect x="354" y="443" width="1" height="177" fill="#dcdcdc"/>
<rect x="415" y="443" width="1" height="177" fill="#dcdcdc"/>
<rect x="476" y="443" width="1" height="177" fill="#dcdcdc"/>
<rect x="538" y="443" width="1" height="177" fill="#dcdcdc"/>
<rect x="600" y="443" width="1" height="177" fill="#dcdcdc"/>
<rect x="47" y="442" width="615" height="1" fill="#404040"/>
<rect x="661" y="442" width="1" height="178" fill="#404040"/>
<rect x="22" y="442" width="1" height="180" fill="#0080ff"/>
<rect x="18" y="442" width="4" height="1" fill="#0080ff"/>
<rect x="18" y="621" width="4" height="1" fill="#0080ff"/>
<rect x="34" y="442" width="1" height="180" fill="#ff9933"/>
<rect x="30" y="442" width="4" height="1" fill="#ff9933"/>
<rect x="30" y="621" width="4" height="1" fill="#ff9933"/>
<rect x="46" y="442" width="1" height="180" fill="#ff0080"/>
<rect x="42" y="442" width="4" height="1" fill="#ff0080"/>
<rect x="42" y="621" width="4" height="1" fill="#ff0080"/>
<path class="cv" d="M47 505.5h4M51.5 505v2M52 506.5h4M56.5 506v2M57 507.5h3M60.5 507v2M61 508.5h2M63.5 508v2M64 509.5h8M72.5 508v2M73 508.5h2M75.5 507v2M76 507.5h1M77.5 506v2M78 506.5h2M80.5 505v2M81 505.5h1M82.5 504v2M83 504.5h1M84.5 503v2M85 503.5h1M86.5 502v2M87 502.5h1M88.5 501v2M89.5 500v2M90 500.5h1M91.5 499v2M92.5 498v2M93.5 497v2M94 497.5h1M95.5 496v2M96.5 495v2M97.5 494v2M98 494.5h1M99.5 492v3M100.5 491v2M101.5 490v2M102.5 489v2M103.5 488v2M104.5 486v3M105.5 485v2M106.5 484v2M107.5 483v2M108.5 482v2M109.5 481v2M110.5 480v2M111.5 479v2M112.5 478v2M113.5 476v3M114 476.5h1M115.5 475v2M116.5 474v2M117 474.5h1M118.5 473v2M119 473.5h1M120.5 472v2M121 472.5h1M122.5 471v2M123 471.5h2M125.5 470v2M126 470.5h3M129.5 470v2M130 471.5h1M131.5 471v2M132.5 472v2M133 473.5h1M134.5 473v2M135 474.5h3M138.5 473v2M139.5 472v2M140.5 471v2M141.5 470v2M142.5 469v2M143.5 468v2M144 468.5h1M145.5 467v2M146 467.5h1M147.5 466v2M148 466.5h2M150.5 465v2M151 465.5h2M153.5 464v2M154 464.5h2M156.5 463v2M157 463.5h1M158.5 462v2M159 462.5h1M160.5 461v2M161 461.5h1M162.5 460v2M163 460.5h1M164.5 459v2M165.5 458v2M166.5 457v2M167.5 456v2M168.5 454v3M169.5 453v2M170.5 452v2M171.5 451v2M172.5 450v2M173 450.5h8M181.5 449v2M182 449.5h4M186.5 449v2M187 450.5h1M188.5 450v2M189 451.5h1M190.5 451v2M191.5 452v2M192.5 453v2M193.5 454v2M194.5 455v2M195.5 456v2M196.5 457v2M197 458.5h1M198.5 458v2M199 459.5h1M200.5 459v2M201 460.5h1M202.5 460v2M203 461.5h3M206.5 460v2M207 460.5h1M208.5 459v2M209 459.5h1M210.5 458v2M211 458.5h1M212.5 457v2M213 457.5h2M215.5 456v2M216 456.5h1M217.5 455v2M218 455.5h3M221.5 455v2M222 456.5h2M224.5 456v2M225 457.5h2M227.5 457v2M228 458.5h5M233.5 458v2M234 459.5h4M238.5 459v2M239 460.5h2M241.5 460v2M242 461.5h3M245.5 461v2M246 462.5h7M253.5 461v2M254.5 460v2M255 460.5h1M256.5 459v2M257 459.5h1M258.5 458v2M259.5 457v2M260 457.5h1M261.5 456v2M262 456.5h1M263.5 455v2M264 455.5h1M265.5 454v2M266 454.5h1M267.5 453v2M268 453.5h1M269.5 452v2M270 452.5h13M283.5 452v2M284 453.5h4M288.5 452v2M289.5 451v2M290 451.5h1M291.5 450v2M292.5 449v2M293.5 448v2M294 448.5h1M295.5 447v2M296 447.5h5M301.5 447v2M302 448.5h2M304.5 448v2M305 449.5h1M306.5 449v2M307.5 450v2M308 451.5h1M309.5 451v2M310 452.5h1M311.5 452v2M312.5 452v2M313 452.5h1M314.5 451v2M315 451.5h1M316.5 450v2M317 450.5h2M319.5 449v2M320 449.5h2M322.5 448v2M323 448.5h3M326.5 448v2M327.5 449v2M328 450.5h1M329.5 450v2M330.5 451v3M331.5 453v2M332.5 454v2M333.5 455v3M334.5 457v2M335.5 458v2M336.5 459v2M337 460.5h2M339.5 460v2M340 461.5h6M346.5 460v2M347 460.5h1M348.5 459v2M349 459.5h1M350.5 458v2M351 458.5h1M352.5 457v2M353 457.5h1M354.5 456v2M355 456.5h7M362.5 456v2M363.5 457v2M364 458.5h1M365.5 458v2M366.5 459v2M367.5 460v2M368.5 461v2M369.5 462v3M370.5 464v3M371.5 466v3M372.5 468v2M373.5 469v3M374.5 471v3M375.5 473v4M376.5 476v3M377.5 478v3M378.5 480v3M379.5 482v4M380.5 485v2M381.5 486v2M382.5 487v3M383.5 489v2M384.5 490v2M385.5 491v2M386.5 492v2M387.5 493v2M388 494.5h1M389.5 494v2M390 495.5h1M391.5 495v2M392 496.5h2M394.5 496v2M395 497.5h4M399.5 497v2M400.5 498v2M401 499.5h1M402.5 499v2M403.5 500v2M404 501.5h1M405.5 501v2M406.5 502v2M407.5 503v2M408.5 504v2M409.5 505v3M410.5 507v2M411 508.5h4M415.5 508v2M416.5 508v2M417.5 507v2M418 507.5h1M419.5 506v2M420.5 505v2M421.5 504v2M422 504.5h1M423.5 503v2M424.5 502v2M425 502.5h1M426.5 501v2M427 501.5h1M428.5 500v2M429.5 499v2M430.5 499v2M431 500.5h3M434.5 500v2M435 501.5h2M437.5 501v2M438 502.5h1M439.5 502v2M440 503.5h1M441.5 503v2M442 504.5h1M443.5 504v2M444 505.5h2M446.5 505v2M447 506.5h2M449.5 506v2M450 507.5h2M452.5 507v2M453 508.5h1M454.5 508v2M455.5 509v2M456 510.5h1M457.5 510v2M458 511.5h1M459.5 511v2M460.5 512v2M461 513.5h1M462.5 513v2M463 514.5h1M464.5 514v2M465 515.5h1M466.5 515v2M467 516.5h4M471.5 516v2M472 517.5h4M476.5 517v2M477 518.5h1M478.5 518v2M479 519.5h2M481.5 519v2M482 520.5h1M483.5 520v2M484 521.5h1M485.5 521v2M486 522.5h2M488.5 522v2M489 523.5h1M490.5 523v2M491 524.5h2M493.5 524v2M494 525.5h3M497.5 525v2M498 526.5h3M501.5 526v2M502 527.5h3M505.5 527v2M506 528.5h2M508.5 528v2M509 529.5h2M511.5 529v2M512 530.5h1M513.5 530v2M514.5 531v2M515 532.5h1M516.5 532v2M517 533.5h1M518.5 533v2M519 534.5h1M520.5 534v2M521.5 535v2M522 536.5h1M523.5 536v2M524.5 537v2M525 538.5h1M526.5 538v2M527.5 539v2M528 540.5h1M529.5 540v2M530.5 541v2M531 542.5h1M532.5 542v2M533 543.5h2M535.5 543v2M536 544.5h1M537.5 544v2M538 545.5h4M542.5 545v2M543 546.5h4M547.5 545v2M548 545.5h4M552.5 544v2M553 544.5h4M557.5 543v2M558 543.5h2M560.5 543v2M561 544.5h2M563.5 544v2M564 545.5h2M566.5 545v2M567 546.5h2M569.5 546v2M570 547.5h2M572.5 547v2M573 548.5h2M575.5 548v2M576 549.5h3M579.5 549v2M580 550.5h8M588.5 549v2M589 549.5h3M592.5 548v2M593 548.5h3M596.5 547v2M597 547.5h5M602.5 546v2M603 546.5h7M610.5 545v2M611 545.5h7M618.5 544v2M619 544.5h6M625.5 543v2M626 543.5h25M651.5 542v2M652 542.5h7M659.5 541v2M660 541.5h1" stroke="#ff9933"/>
<path class="cv" d="M47.5 609v2M48 610.5h3M51.5 610v2M52 611.5h3M55.5 611v2M56 612.5h2M58.5 612v2M59 613.5h3M62.5 613v2M63 614.5h2M65.5 614v2M66 615.5h2M68.5 615v2M69 616.5h3M72.5 616v2M73 617.5h6M79.5 617v2M80 618.5h5M85.5 618v2M86.5 618v2M87 618.5h2M89.5 617v2M90 617.5h1M91.5 616v2M92.5 615v2M93.5 614v2M94.5 613v2M95.5 612v2M96.5 611v2M97.5 610v2M98.5 608v3M99.5 606v3M100.5 605v2M101.5 603v3M102.5 601v3M103.5 599v3M104.5 597v3M105.5 594v4M106.5 592v3M107.5 589v4M108.5 587v3M109.5 584v4M110.5 582v3M111.5 579v4M112.5 577v3M113.5 574v4M114.5 572v3M115.5 569v4M116.5 567v3M117.5 566v2M118.5 564v3M119.5 563v2M120.5 561v3M121.5 559v3M122.5 558v2M123.5 557v2M124.5 556v2M125.5 555v2M126.5 554v2M127.5 553v2M128.5 552v2M129.5 551v2M130 551.5h1M131.5 550v2M132 550.5h2M134.5 549v2M135 549.5h8M143.5 549v2M144 550.5h2M146.5 550v2M147 551.5h2M149.5 551v2M150 552.5h1M151.5 552v2M152.5 553v2M153 554.5h1M154.5 554v2M155 555.5h3M158.5 555v2M159 556.5h2M161.5 556v2M162 557.5h1M163.5 557v2M164 558.5h1M165.5 558v2M166 559.5h1M167.5 559v2M168 560.5h1M169.5 560v2M170 561.5h4M174.5 561v2M175 562.5h3M178.5 561v2M179 561.5h3M182.5 560v2M183 560.5h2M185.5 559v2M186 559.5h3M189.5 558v2M190 558.5h1M191.5 557v2M192 557.5h1M193.5 556v2M194 556.5h1M195.5 555v2M196 555.5h1M197.5 554v2M198 554.5h1M199.5 553v2M200 553.5h3M203.5 552v2M204 552.5h3M207.5 551v2M208 551.5h9M217.5 551v2M218 552.5h2M220.5 552v2M221 553.5h3M224.5 553v2M225 554.5h2M227.5 554v2M228 555.5h2M230.5 555v2M231 556.5h2M233.5 556v2M234 557.5h6M240.5 557v2M241.5 557v2M242 557.5h2M244.5 556v2M245 556.5h2M247.5 555v2M248 555.5h2M250.5 554v2M251 554.5h2M253.5 553v2M254 553.5h2M256.5 552v2M257 552.5h1M258.5 551v2M259 551.5h1M260.5 550v2M261.5 549v2M262 549.5h1M263.5 548v2M264 548.5h1M265.5 547v2M266 547.5h3M269.5 546v2M270 546.5h2M272.5 545v2M273 545.5h7M280.5 544v2M281 544.5h22M303.5 543v2M304 543.5h4M308.5 542v2M309 542.5h3M312.5 541v2M313 541.5h4M317.5 540v2M318 540.5h5M323.5 539v2M324 539.5h27M351.5 539v2M352 540.5h1M353.5 539v2M354 539.5h9M363.5 538v2M364 538.5h11M375.5 537v2M376 537.5h6M382.5 536v2M383 536.5h12M395.5 536v2M396 537.5h2M398.5 537v2M399 538.5h1M400.5 538v2M401 539.5h4M405.5 538v2M406 538.5h1M407.5 537v2M408.5 536v2M409 536.5h1M410.5 535v2M411 535.5h2M413.5 535v2M414 536.5h9M423.5 535v2M424 535.5h3M427.5 534v2M428 534.5h2M430.5 533v2M431 533.5h1M432.5 532v2M433 532.5h1M434.5 531v2M435 531.5h2M437.5 531v2M438 532.5h2M440.5 532v2M441 533.5h2M443.5 533v2M444 534.5h5M449.5 533v2M450 533.5h11M461.5 533v2M462 534.5h50M512.5 533v2M513 533.5h32M545.5 533v2M546 534.5h17M563.5 534v2M564 535.5h21M585.5 535v2M586 536.5h22M608.5 536v2M609 537.5h21M630.5 537v2M631.5 538v2M632.5 539v2M633.5 540v2M634.5 541v2M635.5 542v2M636.5 543v3M637.5 545v2M638.5 546v2M639.5 547v2M640.5 548v3M641.5 550v2M642.5 551v2M643.5 552v2M644.5 553v2M645.5 554v2M646 555.5h1M647.5 555v2M648.5 556v2M649.5 557v2M650.5 558v2M651.5 559v2M652.5 560v2M653 561.5h3M656.5 560v2M657 560.5h1M658.5 559v2M659 559.5h2" stroke="#0080ff"/>
<path class="cv" d="M47.5 573v2M48 574.5h1M49.5 574v2M50.5 575v2M51 576.5h1M52.5 576v2M53 577.5h1M54.5 577v2M55 578.5h1M56.5 578v2M57.5 579v2M58 580.5h1M59.5 580v2M60.5 581v2M61 582.5h1M62.5 582v2M63.5 583v2M64.5 584v2M65 585.5h1M66.5 585v2M67.5 586v2M68.5 587v2M69 588.5h1M70.5 588v2M71.5 589v2M72.5 590v2M73.5 591v2M74 592.5h1M75.5 592v2M76.5 593v2M77.5 594v2M78.5 595v2M79.5 596v2M80 597.5h1M81.5 597v2M82.5 598v2M83.5 599v2M84.5 600v2M85 601.5h1M86.5 601v2M87.5 602v2M88.5 603v2M89 604.5h1M90.5 604v2M91.5 605v2M92.5 606v2M93 607.5h1M94.5 607v2M95.5 608v2M96 609.5h1M97.5 609v2M98.5 610v2M99 611.5h1M100.5 611v2M101.5 612v2M102 613.5h1M103.5 613v2M104.5 614v2M105 615.5h2M107.5 615v2M108 616.5h2M110.5 616v2M111 617.5h5M116.5 617v2M117 618.5h7M124.5 617v2M125 617.5h3M128.5 616v2M129 616.5h4M133.5 615v2M134 615.5h2M136.5 614v2M137 614.5h2M139.5 613v2M140 613.5h3M143.5 612v2M144 612.5h2M146.5 611v2M147 611.5h3M150.5 610v2M151 610.5h3M154.5 609v2M155 609.5h4M159.5 608v2M160 608.5h7M167.5 607v2M168 607.5h10M178.5 606v2M179 606.5h9M188.5 605v2M189 605.5h6M195.5 604v2M196 604.5h5M201.5 603v2M202 603.5h6M208.5 602v2M209 602.5h5M214.5 601v2M215 601.5h6M221.5 600v2M222 600.5h5M227.5 599v2M228 599.5h10M238.5 598v2M239 598.5h13M252.5 597v2M253 597.5h5M258.5 596v2M259 596.5h5M264.5 595v2M265 595.5h5M270.5 594v2M271 594.5h3M274.5 593v2M275 593.5h2M277.5 592v2M278 592.5h3M281.5 591v2M282 591.5h2M284.5 590v2M285 590.5h3M288.5 589v2M289 589.5h2M291.5 588v2M292 588.5h2M294.5 587v2M295 587.5h2M297.5 586v2M298 586.5h3M301.5 585v2M302 585.5h2M304.5 584v2M305 584.5h2M307.5 583v2M308 583.5h2M310.5 582v2M311 582.5h2M313.5 581v2M314 581.5h2M316.5 580v2M317 580.5h1M318.5 579v2M319 579.5h2M321.5 578v2M322 578.5h2M324.5 577v2M325 577.5h1M326.5 576v2M327 576.5h2M329.5 575v2M330 575.5h2M332.5 574v2M333 574.5h1M334.5 573v2M335 573.5h2M337.5 572v2M338 572.5h1M339.5 571v2M340 571.5h2M342.5 570v2M343 570.5h1M344.5 569v2M345 569.5h2M347.5 568v2M348 568.5h2M350.5 567v2M351 567.5h1M352.5 566v2M353 566.5h1M354.5 565v2M355 565.5h2M357.5 564v2M358 564.5h1M359.5 563v2M360 563.5h2M362.5 562v2M363 562.5h1M364.5 561v2M365 561.5h1M366.5 560v2M367 560.5h2M369.5 559v2M370 559.5h1M371.5 558v2M372 558.5h2M374.5 557v2M375 557.5h1M376.5 556v2M377 556.5h2M379.5 555v2M380 555.5h2M382.5 554v2M383 554.5h1M384.5 553v2M385 553.5h2M387.5 552v2M388 552.5h1M389.5 551v2M390 551.5h2M392.5 550v2M393 550.5h1M394.5 549v2M395 549.5h2M397.5 548v2M398 548.5h1M399.5 547v2M400 547.5h2M402.5 546v2M403 546.5h2M405.5 545v2M406 545.5h1M407.5 544v2M408 544.5h2M410.5 543v2M411 543.5h1M412.5 542v2M413 542.5h2M415.5 541v2M416 541.5h1M417.5 540v2M418 540.5h2M420.5 539v2M421 539.5h1M422.5 538v2M423 538.5h2M425.5 537v2M426 537.5h1M427.5 536v2M428 536.5h2M430.5 535v2M431 535.5h1M432.5 534v2M433 534.5h2M435.5 533v2M436 533.5h1M437.5 532v2M438 532.5h2M440.5 531v2M441 531.5h1M442.5 530v2M443 530.5h2M445.5 529v2M446 529.5h2M448.5 528v2M449 528.5h1M450.5 527v2M451 527.5h2M453.5 526v2M454 526.5h2M456.5 525v2M457 525.5h1M458.5 524v2M459 524.5h2M461.5 523v2M462 523.5h2M464.5 522v2M465 522.5h2M467.5 521v2M468 521.5h2M470.5 520v2M471 520.5h2M473.5 519v2M474 519.5h2M476.5 518v2M477 518.5h2M479.5 517v2M480 517.5h2M482.5 516v2M483 516.5h2M485.5 515v2M486 515.5h2M488.5 514v2M489 514.5h2M491.5 513v2M492 513.5h1M493.5 512v2M494 512.5h2M496.5 511v2M497 511.5h1M498.5 510v2M499 510.5h2M501.5 509v2M502 509.5h1M503.5 508v2M504 508.5h2M506.5 507v2M507 507.5h1M508.5 506v2M509 506.5h2M511.5 505v2M512 505.5h1M513.5 504v2M514 504.5h2M516.5 503v2M517 503.5h1M518.5 502v2M519 502.5h2M521.5 501v2M522 501.5h1M523.5 500v2M524 500.5h2M526.5 499v2M527 499.5h1M528.5 498v2M529 498.5h2M531.5 497v2M532 497.5h1M533.5 496v2M534 496.5h2M536.5 495v2M537 495.5h1M538.5 494v2M539 494.5h2M541.5 493v2M542 493.5h1M543.5 492v2M544 492.5h2M546.5 491v2M547 491.5h1M548.5 490v2M549 490.5h2M551.5 489v2M552 489.5h1M553.5 488v2M554 488.5h2M556.5 487v2M557 487.5h1M558.5 486v2M559 486.5h2M561.5 485v2M562 485.5h1M563.5 484v2M564 484.5h2M566.5 483v2M567 483.5h1M568.5 482v2M569 482.5h2M571.5 481v2M572 481.5h1M573.5 480v2M574 480.5h2M576.5 479v2M577 479.5h1M578.5 478v2M579 478.5h2M581.5 477v2M582 477.5h1M583.5 476v2M584 476.5h2M586.5 475v2M587 475.5h2M589.5 474v2M590 474.5h1M591.5 473v2M592 473.5h2M594.5 472v2M595 472.5h2M597.5 471v2M598 471.5h2M600.5 470v2M601 470.5h1M602.5 469v2M603 469.5h2M605.5 468v2M606 468.5h2M608.5 467v2M609 467.5h2M611.5 466v2M612 466.5h1M613.5 465v2M614 465.5h2M616.5 464v2M617 464.5h2M619.5 463v2M620 463.5h2M622.5 462v2M623 462.5h2M625.5 461v2M626 461.5h2M628.5 460v2M629 460.5h2M631.5 459v2M632 459.5h3M635.5 458v2M636 458.5h3M639.5 457v2M640 457.5h4M644.5 456v2M645 456.5h3M648.5 455v2M649 455.5h6M655.5 454v2M656 454.5h5" stroke="#ff0080"/>
<rect x="45" y="620" width="617" height="2" fill="#ff9933"/>
<rect x="45" y="620" width="2" height="7" fill="#ff9933"/>
<rect x="660" y="620" width="2" height="7" fill="#ff9933"/>
<text class="ax" fill="#0080ff" transform="translate(13,442.6) rotate(90) scale(1.1,1)">0.98</text>
<text class="ax" fill="#0080ff" text-anchor="end" transform="translate(13,619.5) rotate(90) scale(1.1,1)">-0.42</text>
<text class="ax" fill="#ff9933" transform="translate(25,443.9) rotate(90) scale(1.1,1)">1.4</text>
<text class="ax" fill="#ff9933" text-anchor="end" transform="translate(25,619.5) rotate(90) scale(1.1,1)">-1.4</text>
<text class="ax" fill="#ff0080" transform="translate(37,443.5) rotate(90) scale(1.1,1)">108.8</text>
<text class="ax" fill="#ff0080" text-anchor="end" transform="translate(37,619.5) rotate(90) scale(1.1,1)">74.8</text>
<text class="lg" transform="translate(393,439.8) scale(1.077,1)"><tspan x="0" fill="#0080ff">long accel [g],</tspan><tspan x="55.99" fill="#ff9933">lat accel [g],</tspan><tspan x="106.59" fill="#ff0080">speed [mph],</tspan></text>
<text class="bl" y="629" fill="#ff9933"><tspan x="296.3" style="letter-spacing:0.0px">R: 203Qual</tspan><tspan x="346.2">L: 4</tspan><tspan x="364.2" style="letter-spacing:0.12px">S: Sector 9</tspan></text>
<!-- vertical scale bar -->
<g fill="#000">
<rect x="3" y="47" width="3" height="599"/>
<rect x="1" y="47" width="9" height="3"/>
<rect x="1" y="643" width="9" height="3"/>
<rect x="59" y="637" width="599" height="3"/>
<rect x="58" y="633" width="3" height="9"/>
<rect x="656" y="633" width="3" height="9"/>
</g>
<g stroke="#000" stroke-width="1" fill="none">
<path d="M2.5 36.5 L9.5 43.5 M9.5 36.5 L2.5 43.5"/>
<path d="M47.5 634.5 L54.5 641.5 M54.5 634.5 L47.5 641.5"/>
</g>
<!-- top-right icons -->
<g>
<rect x="658" y="1" width="15" height="15" fill="#4d4d4d"/>
<rect x="673" y="1" width="15" height="15" fill="#4d4d4d"/>
<rect x="658" y="1" width="15" height="1" fill="#7a7a7a"/><rect x="658" y="1" width="1" height="15" fill="#7a7a7a"/>
<rect x="673" y="1" width="15" height="1" fill="#7a7a7a"/><rect x="673" y="1" width="1" height="15" fill="#7a7a7a"/>
<rect x="658" y="15" width="30" height="1" fill="#1c1c1c"/><rect x="672" y="1" width="1" height="15" fill="#1c1c1c"/><rect x="687" y="1" width="1" height="15" fill="#1c1c1c"/>
<g fill="#fff" shape-rendering="crispEdges">
<rect x="665" y="3" width="1" height="11"/><rect x="660" y="8" width="11" height="1"/>
<rect x="664" y="4" width="3" height="1"/><rect x="663" y="5" width="5" height="1"/>
<rect x="664" y="12" width="3" height="1"/><rect x="663" y="11" width="5" height="1"/>
<rect x="661" y="7" width="1" height="3"/><rect x="662" y="6" width="1" height="5"/>
<rect x="669" y="7" width="1" height="3"/><rect x="668" y="6" width="1" height="5"/>
</g>
<g fill="#8a8a8a" shape-rendering="crispEdges">
<rect x="663" y="5" width="1" height="1"/><rect x="667" y="5" width="1" height="1"/><rect x="663" y="11" width="1" height="1"/><rect x="667" y="11" width="1" height="1"/>
<rect x="662" y="6" width="1" height="1"/><rect x="662" y="10" width="1" height="1"/><rect x="668" y="6" width="1" height="1"/><rect x="668" y="10" width="1" height="1"/>
</g>
<path d="M676.3 4.2 L685 12.8 M685 4.2 L676.3 12.8" stroke="#fff" stroke-width="2.5" fill="none"/>
</g>
<!-- bottom-right icon -->
<g>
<rect x="673" y="645" width="15" height="15" fill="#5e5e5e"/>
<rect x="686" y="646" width="2" height="14" fill="#151515"/><rect x="674" y="658" width="14" height="2" fill="#151515"/>
<rect x="675" y="647" width="11" height="11" fill="#fff"/>
<rect x="676" y="648" width="9" height="1" fill="#111"/><rect x="676" y="648" width="1" height="9" fill="#111"/>
<path d="M680.3 649 H685 V653 H682.3 L680.3 651 Z" fill="#444"/>
<path d="M677 652.2 L679 651.6 L681.3 654 V657 H677 Z" fill="#444"/>
</g>
</svg>
<div id="frame"></div>
</body></html>
